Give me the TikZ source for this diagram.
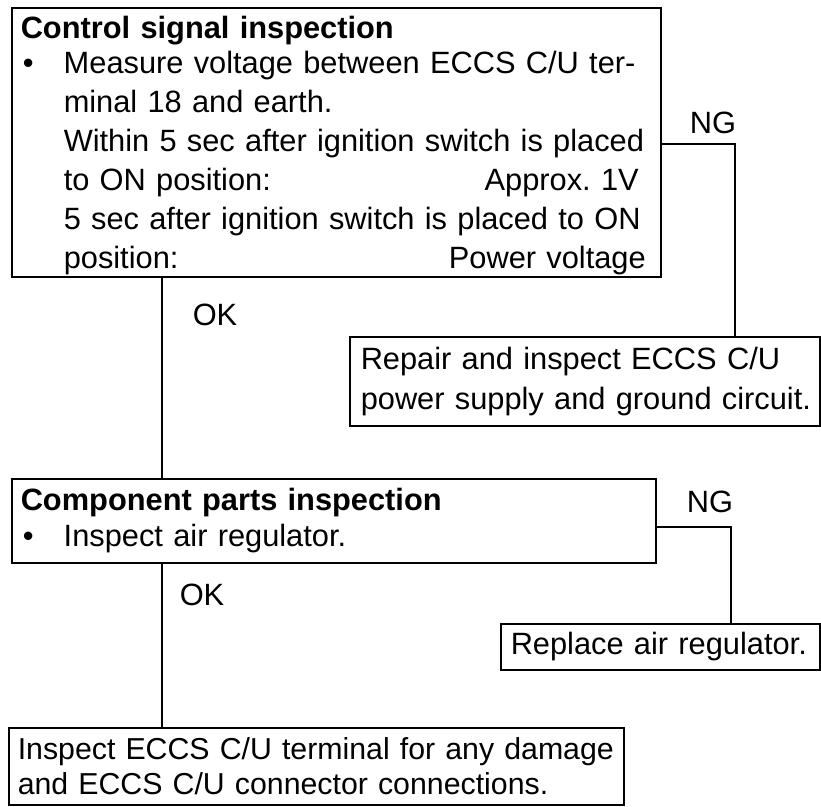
\documentclass[tikz,border=0pt]{standalone}
\usepackage{fontspec}
\setmainfont{Liberation Sans}
\tikzset{
  box/.style={draw=black, line width=1.5pt, rectangle, anchor=north west, align=left, inner ysep=0pt},
  conn/.style={draw=black, line width=1.5pt},
  lbl/.style={inner sep=0pt, font=\fontsize{30.8}{36}\selectfont}
}
\newcommand{\bul}{\makebox[43pt][l]{\hspace{2pt}\textbullet}}
\begin{document}
\begin{tikzpicture}[x=1pt, y=-1pt]
\useasboundingbox (0,0) rectangle (821,806);
% boxes
\node[box, text width=631pt, inner xsep=9pt, minimum height=269pt,
      font=\fontsize{30.8}{39}\selectfont] (b1) at (11,7) {%
\rule{0pt}{28pt}\textbf{Control signal inspection}\\[-4pt]
\bul\makebox[584pt][s]{Measure voltage between ECCS C/U ter-}\\
\hspace*{43pt}\mbox{minal 18 and earth.}\\
\hspace*{43pt}\makebox[584pt][s]{Within 5 sec after ignition switch is placed}\\
\hspace*{43pt}\makebox[584pt][s]{to ON position:\hfill Approx.~1V\hspace{9pt}}\\
\hspace*{43pt}\makebox[584pt][s]{5 sec after ignition switch is placed to ON}\\
\hspace*{43pt}\makebox[584pt][s]{position:\hfill Power voltage\hspace{2pt}}};
\node[box, text width=448pt, inner xsep=11pt, minimum height=89pt,
      font=\fontsize{30.8}{40}\selectfont] (b2) at (349,336) {%
\mbox{Repair and inspect ECCS C/U}\\
\mbox{power supply and ground circuit.}};
\node[box, text width=626pt, inner xsep=9pt, minimum height=84pt,
      font=\fontsize{30.8}{36}\selectfont] (b3) at (11,478) {%
\mbox{\textbf{Component parts inspection}}\\
\bul\mbox{Inspect air regulator.}};
\node[box, text width=299pt, inner xsep=10pt, minimum height=46pt,
      font=\fontsize{30.8}{36}\selectfont] (b4) at (500,623) {%
\mbox{Replace air regulator.}};
\node[box, text width=597pt, inner xsep=9pt, minimum height=77pt,
      font=\fontsize{30.3}{35}\selectfont] (b5) at (8,727) {%
\mbox{Inspect ECCS C/U terminal for any damage}\\
\mbox{and ECCS C/U connector connections.}};
% connector coordinates
\coordinate (ok) at (162,0);
\coordinate (ng1) at (735,144);
\coordinate (ng2) at (731,527);
% connectors
\draw[conn] (ok |- b1.south) -- (ok |- b3.north);
\draw[conn] (ok |- b3.south) -- (ok |- b5.north);
\draw[conn] (ng1 -| b1.east) -- (ng1) -- (ng1 |- b2.north);
\draw[conn] (ng2 -| b3.east) -- (ng2) -- (ng2 |- b4.north);
% labels
\node[lbl] (lng1) at (713,123) {NG};
\node[lbl] (lok1) at (215,315) {OK};
\node[lbl] (lng2) at (710,502) {NG};
\node[lbl] (lok2) at (202,595) {OK};
\end{tikzpicture}
\end{document}
